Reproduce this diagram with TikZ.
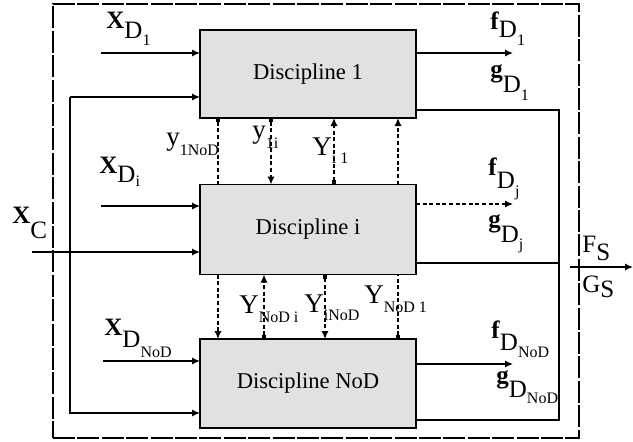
\documentclass[tikz,border=0pt]{standalone}
\usepackage{fontspec}
\setmainfont{Liberation Serif}
\usetikzlibrary{arrows.meta}
\definecolor{boxgray}{RGB}{225,225,225}
\newcommand\Lo[2]{\raisebox{-#1pt}{#2}}
\newcommand\sm[1]{{\fontsize{8}{9}\selectfont #1}}
\begin{document}
\begin{tikzpicture}[x=0.5pt,y=-0.5pt,
  box/.style={draw, line width=0.9pt, fill=boxgray, minimum width=108pt, inner sep=0pt, outer sep=0pt, font=\fontsize{11.3}{13}\selectfont},
  border/.style={draw, line width=0.7pt, dash pattern=on 11pt off 1.2pt, minimum width=263pt, minimum height=217pt, inner sep=0pt, outer sep=0pt},
  ln/.style={line width=0.7pt},
  tip/.style={-{Latex[length=4pt,width=3.6pt]}},
  arr/.style={ln, tip},
  dsh/.style={ln, dash pattern=on 2pt off 1.3pt},
  dot/.style={{Square[length=2.2pt,width=2.4pt]}-},
  dt/.style={{Square[length=2.2pt,width=2.4pt]}-{Latex[length=4pt,width=3.6pt]}},
  lab/.style={anchor=base west, inner sep=0pt, font=\fontsize{12.5}{14}\selectfont},
  big/.style={anchor=base west, inner sep=0pt, font=\fontsize{13.5}{15}\selectfont}
]
\useasboundingbox (0,0) rectangle (633,441);
\node[border] (sys) at (316,221) {};
% discipline boxes
\node[box, minimum height=44pt] (b1) at (308,74) {Discipline 1};
\node[box, minimum height=45pt] (bi) at (308,229.5) {Discipline i};
\node[box, minimum height=44.5pt] (bN) at (308,383.5) {Discipline NoD};
% input coordinates
\coordinate (xd1) at (101,53);
\coordinate (xdi) at (101,206);
\coordinate (xdn) at (103,361);
\coordinate (xc) at (32,252);
\coordinate (lp1) at (70,97);
\coordinate (lp2) at (70,413);
% inputs
\draw[arr] (xd1) -- (xd1 -| b1.west);
\draw[arr] (xdi) -- (xdi -| bi.west);
\draw[arr] (xdn) -- (xdn -| bN.west);
\draw[arr] (xc) -- (xc -| bi.west);
\draw[arr] (lp1) -- (lp1 -| b1.west);
\draw[arr] (lp1) -- (lp2) -- (lp2 -| bN.west);
% outputs
\coordinate (o1) at (513,53);
\coordinate (oi) at (513,204);
\coordinate (on) at (513,364);
\draw[arr] (o1 -| b1.east) -- (o1);
\draw[arr, dsh] (oi -| bi.east) -- (oi);
\draw[arr] (on -| bN.east) -- (on);
% right feedback
\coordinate (r1) at (559,110);
\coordinate (r2) at (559,263);
\coordinate (r3) at (559,420);
\draw[ln] (r1 -| b1.east) -- (r1) -- (r3) -- (r3 -| bN.east);
\draw[ln] (r2 -| bi.east) -- (r2);
\coordinate (fs0) at (570,267);
\coordinate (fs1) at (633,267);
\draw[arr] (fs0) -- (fs1);
% couplings
\coordinate (v1) at (218,0);
\coordinate (v2) at (271,0);
\coordinate (v3) at (334,0);
\coordinate (v4) at (398,0);
\coordinate (v5) at (264,0);
\coordinate (v6) at (325,0);
\draw[dsh, dot] (b1.south -| v1) -- (bi.north -| v1);
\draw[dsh, dt] (b1.south -| v2) -- (bi.north -| v2);
\draw[dsh, dt] (bi.north -| v3) -- (b1.south -| v3);
\draw[dsh, tip] (bi.north -| v4) -- (b1.south -| v4);
\draw[dsh, tip] (bi.south -| v1) -- (bN.north -| v1);
\draw[dsh, dt] (bN.north -| v5) -- (bi.south -| v5);
\draw[dsh, dt] (bi.south -| v6) -- (bN.north -| v6);
\draw[dsh, dot] (bN.north -| v4) -- (bi.south -| v4);
% labels
\node[lab] (lxd1) at (106,28) {\textbf{X}\Lo{5}{D\Lo{3.5}{\sm{1}}}};
\node[lab] (lxdi) at (99,173) {\textbf{X}\Lo{4.5}{D\Lo{2}{\sm{i}}}};
\node[lab] (lxdn) at (104,335) {\textbf{X}\Lo{6}{D\Lo{5}{\sm{NoD}}}};
\node[lab] (lxc) at (12,223) {\textbf{X}\Lo{7.5}{C}};
\node[lab] (lfd1) at (490,29) {\textbf{f}\Lo{4}{D\Lo{4}{\sm{1}}}};
\node[lab] (lgd1) at (490,77) {\textbf{g}\Lo{7.5}{D\Lo{4}{\sm{1}}}};
\node[lab] (lfdj) at (488,175) {\textbf{f}\Lo{6.5}{D\Lo{4}{\sm{j}}}};
\node[lab] (lgdj) at (488,227) {\textbf{g}\Lo{7.5}{D\Lo{3.5}{\sm{j}}}};
\node[lab] (lfs) at (582,252) {F\Lo{4}{S}};
\node[lab] (lgs) at (582,292) {G\Lo{2.5}{S}};
\node[lab] (lfdn) at (491,338) {\textbf{f}\Lo{6}{D\Lo{3.5}{\sm{NoD}}}};
\node[lab] (lgdn) at (496,383) {\textbf{g}\Lo{7}{D\Lo{3}{\sm{NoD}}}};
\node[big] (ly1n) at (166,145) {y\Lo{5}{\sm{1NoD}}};
\node[big] (ly1i) at (252,138) {y\Lo{5}{\sm{1i}}};
\node[big] (lyi1) at (312,155) {Y\Lo{4}{\sm{i 1}}};
\node[big] (lyni) at (239,313) {Y\Lo{4.5}{\sm{NoD i}}};
\node[big] (lyin) at (304,312) {Y\Lo{4}{\sm{iNoD}}};
\node[big] (lyn1) at (364,303) {Y\Lo{4.5}{\sm{NoD 1}}};
\end{tikzpicture}
\end{document}
